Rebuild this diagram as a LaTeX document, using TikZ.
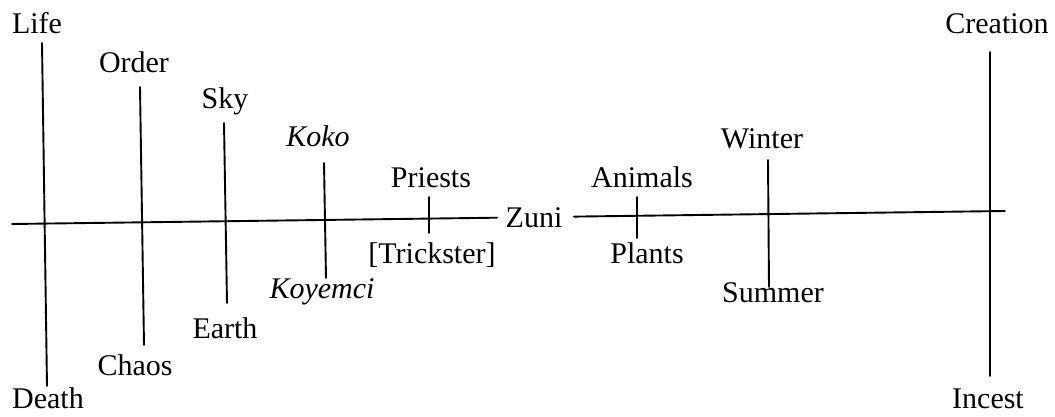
\documentclass[tikz,border=0pt]{standalone}
\usepackage{fontspec}
\setmainfont{Liberation Serif}
\begin{document}
\begin{tikzpicture}[x=1pt,y=-1pt,
  lbl/.style={anchor=base,inner sep=0pt,font=\fontsize{30}{34}\selectfont},
  axis/.style={line width=1.9pt,line cap=round}]
\useasboundingbox (0,0) rectangle (1055,416);

% labels of the opposed pairs
\node[lbl] (life)     at (37,33)   {Life};
\node[lbl] (death)    at (48,408)  {Death};
\node[lbl] (order)    at (134,72)  {Order};
\node[lbl] (chaos)    at (135,375) {Chaos};
\node[lbl] (sky)      at (225,108) {Sky};
\node[lbl] (earth)    at (225,338) {Earth};
\node[lbl] (koko)     at (318,146) {\itshape Koko};
\node[lbl] (koyemci)  at (322,298) {\itshape Koyemci};
\node[lbl] (priests)  at (431,187) {Priests};
\node[lbl] (trick)    at (432,263) {[Trickster]};
\node[lbl] (zuni)     at (534,227) {Zuni};
\node[lbl] (animals)  at (642,187) {Animals};
\node[lbl] (plants)   at (647,263) {Plants};
\node[lbl] (winter)   at (762,148) {Winter};
\node[lbl] (summer)   at (773,302) {Summer};
\node[lbl] (creation) at (997,33)  {Creation};
\node[lbl] (incest)   at (988,408) {Incest};

% ends of the axes
\coordinate (hl) at (12,224);
\coordinate (zl) at (497,217.7);
\coordinate (zr) at (574,216.6);
\coordinate (hr) at (1005,211);

\coordinate (life-t)  at (42,43);   \coordinate (death-b)  at (47,386);
\coordinate (order-t) at (140,87);  \coordinate (chaos-b)  at (144,345);
\coordinate (sky-t)   at (224,123); \coordinate (earth-b)  at (227,303);
\coordinate (koko-t)  at (324,163); \coordinate (koy-b)    at (326,278);
\coordinate (pri-t)   at (429,197); \coordinate (tri-b)    at (429,233);
\coordinate (ani-t)   at (637,197); \coordinate (pla-b)    at (637,238);
\coordinate (win-t)   at (768,160); \coordinate (sum-b)    at (769,287);
\coordinate (cre-t)   at (990,52);  \coordinate (inc-b)    at (990,376);

% the horizontal axis through Zuni
\draw[axis] (hl) -- (zl);
\draw[axis] (zr) -- (hr);

% the vertical oppositions
\draw[axis] (life-t)  -- (death-b);
\draw[axis] (order-t) -- (chaos-b);
\draw[axis] (sky-t)   -- (earth-b);
\draw[axis] (koko-t)  -- (koy-b);
\draw[axis] (pri-t)   -- (tri-b);
\draw[axis] (ani-t)   -- (pla-b);
\draw[axis] (win-t)   -- (sum-b);
\draw[axis] (cre-t)   -- (inc-b);
\end{tikzpicture}
\end{document}
